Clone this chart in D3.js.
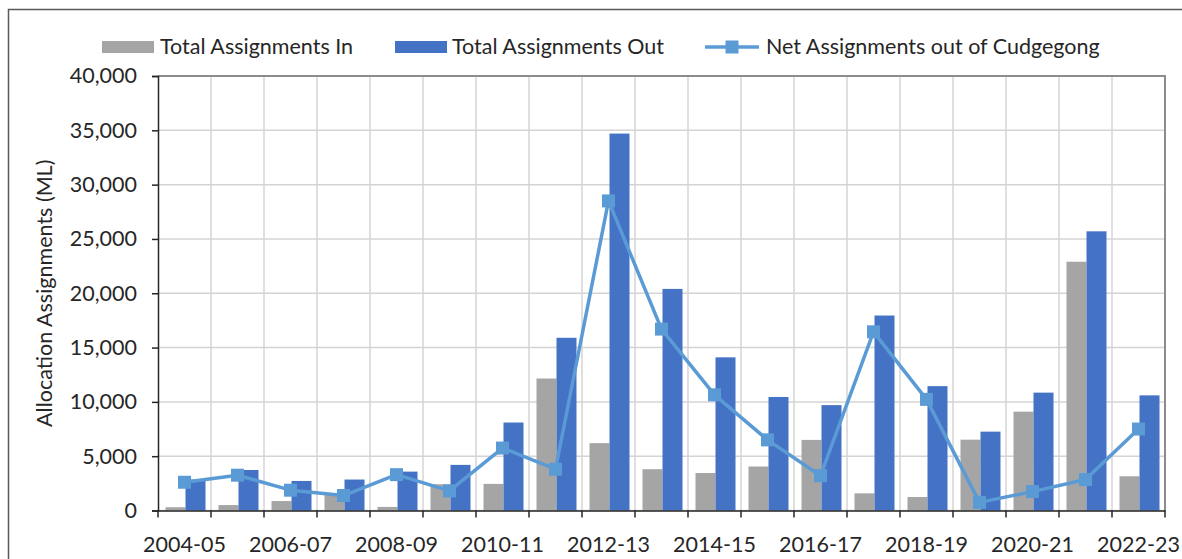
<!DOCTYPE html>
<html>
  <head>
    <title>Allocation Assignments</title>
    <script src="https://d3js.org/d3.v7.min.js"></script>
    <style>
      body { margin: 0; background: #fff; }
      text { font-family: Lato, "Open Sans", sans-serif; fill: #262626; }
    </style>
  </head>
  <body>
    <div id="chart"></div>
    <script>
      // Data (ML)
      var years = ["2004-05", "2005-06", "2006-07", "2007-08", "2008-09", "2009-10",
        "2010-11", "2011-12", "2012-13", "2013-14", "2014-15", "2015-16", "2016-17",
        "2017-18", "2018-19", "2019-20", "2020-21", "2021-22", "2022-23"];
      var assignIn = [300, 500, 870, 1450, 330, 2420, 2450, 12150, 6200, 3800, 3450,
        4050, 6500, 1580, 1240, 6520, 9100, 22900, 3150];
      var assignOut = [2850, 3730, 2720, 2850, 3580, 4200, 8100, 15900, 34700, 20400,
        14100, 10450, 9700, 17950, 11450, 7260, 10850, 25700, 10600];
      var netOut = [2600, 3250, 1870, 1380, 3300, 1800, 5750, 3800, 28500, 16700,
        10650, 6500, 3200, 16450, 10230, 750, 1740, 2850, 7500];
      var yTicks = [0, 5000, 10000, 15000, 20000, 25000, 30000, 35000, 40000];
      var labelEvery = 2;

      var width = 1182, height = 559;
      var plotL = 158, plotR = 1165, plotT = 76, plotB = 510.5;
      var fontSize = "21.5px";

      var svg = d3.select("#chart")
        .append("svg")
        .attr("width", width)
        .attr("height", height);

      // outer chart frame (runs off the picture on the right and bottom)
      svg.append("rect")
        .attr("x", 8.5).attr("y", 9.5)
        .attr("width", 1300).attr("height", 700)
        .attr("fill", "none")
        .attr("stroke", "#595959")
        .attr("stroke-width", 1.5);

      var x = d3.scaleBand()
        .domain(years)
        .range([plotL, plotR]);

      var y = d3.scaleLinear()
        .domain([0, 40000])
        .range([plotB, plotT]);

      var barW = 20;

      // horizontal gridlines
      svg.append("g")
        .selectAll("line")
        .data(yTicks)
        .enter()
        .append("line")
        .attr("x1", plotL).attr("x2", plotR)
        .attr("y1", function(d) { return y(d); })
        .attr("y2", function(d) { return y(d); })
        .attr("stroke", "#d4d4d4")
        .attr("stroke-width", 1.5);

      // vertical gridlines at category boundaries
      svg.append("g")
        .selectAll("line")
        .data(years.slice(1))
        .enter()
        .append("line")
        .attr("x1", function(d) { return x(d); })
        .attr("x2", function(d) { return x(d); })
        .attr("y1", plotT).attr("y2", plotB)
        .attr("stroke", "#d4d4d4")
        .attr("stroke-width", 1.5);

      // plot frame: top and right
      svg.append("path")
        .attr("d", "M" + plotL + "," + plotT + "H" + plotR + "V" + plotB)
        .attr("fill", "none")
        .attr("stroke", "#8c8c8c")
        .attr("stroke-width", 2);

      // bars
      svg.append("g")
        .selectAll("rect")
        .data(years)
        .enter()
        .append("rect")
        .attr("x", function(d) { return x(d) + x.bandwidth() / 2 - barW + 1; })
        .attr("y", function(d, i) { return y(assignIn[i]); })
        .attr("width", barW)
        .attr("height", function(d, i) { return plotB - y(assignIn[i]); })
        .attr("fill", "#a5a5a5");

      svg.append("g")
        .selectAll("rect")
        .data(years)
        .enter()
        .append("rect")
        .attr("x", function(d) { return x(d) + x.bandwidth() / 2 + 1; })
        .attr("y", function(d, i) { return y(assignOut[i]); })
        .attr("width", barW)
        .attr("height", function(d, i) { return plotB - y(assignOut[i]); })
        .attr("fill", "#4472c4");

      // y axis
      var yAxis = svg.append("g")
        .attr("transform", "translate(" + plotL + ",0)")
        .call(d3.axisLeft(y).tickValues(yTicks).tickSize(6).tickPadding(15)
          .tickFormat(d3.format(",")));
      yAxis.select(".domain").attr("stroke", "#262626").attr("stroke-width", 1.5);
      yAxis.selectAll(".tick line").attr("stroke", "#262626").attr("stroke-width", 1.5);
      yAxis.selectAll("text").style("font-size", fontSize).attr("fill", "#262626");

      // x axis
      var xAxis = svg.append("g")
        .attr("transform", "translate(0," + plotB + ")")
        .call(d3.axisBottom(x).tickSize(0).tickPadding(26)
          .tickFormat(function(d, i) { return i % labelEvery === 0 ? d : ""; }));
      xAxis.select(".domain").attr("stroke", "#262626").attr("stroke-width", 1.5);
      xAxis.selectAll("text").style("font-size", fontSize).attr("fill", "#262626");

      // x tick marks at category boundaries
      svg.append("g")
        .selectAll("line")
        .data(years.concat(["end"]))
        .enter()
        .append("line")
        .attr("x1", function(d, i) { return plotL + i * x.step(); })
        .attr("x2", function(d, i) { return plotL + i * x.step(); })
        .attr("y1", plotB).attr("y2", plotB + 7)
        .attr("stroke", "#262626")
        .attr("stroke-width", 1.5);

      // net line
      var line = d3.line()
        .x(function(d, i) { return x(years[i]) + x.bandwidth() / 2; })
        .y(function(d) { return y(d); });

      svg.append("path")
        .datum(netOut)
        .attr("d", line)
        .attr("fill", "none")
        .attr("stroke", "#5b9bd5")
        .attr("stroke-width", 3.5)
        .attr("stroke-linejoin", "round");

      svg.append("g")
        .selectAll("rect")
        .data(netOut)
        .enter()
        .append("rect")
        .attr("x", function(d, i) { return x(years[i]) + x.bandwidth() / 2 - 6.5; })
        .attr("y", function(d) { return y(d) - 6.5; })
        .attr("width", 13)
        .attr("height", 13)
        .attr("fill", "#5b9bd5");

      // y title
      svg.append("text")
        .attr("transform", "translate(52," + ((plotT + plotB) / 2) + ") rotate(-90)")
        .attr("text-anchor", "middle")
        .style("font-size", fontSize)
        .text("Allocation Assignments (ML)");

      // legend
      var legend = svg.append("g");
      legend.append("rect")
        .attr("x", 102).attr("y", 41).attr("width", 52).attr("height", 12)
        .attr("fill", "#a5a5a5");
      legend.append("text")
        .attr("x", 160).attr("y", 54)
        .style("font-size", fontSize)
        .text("Total Assignments In");
      legend.append("rect")
        .attr("x", 395).attr("y", 41).attr("width", 52).attr("height", 12)
        .attr("fill", "#4472c4");
      legend.append("text")
        .attr("x", 452).attr("y", 54)
        .style("font-size", fontSize)
        .text("Total Assignments Out");
      legend.append("line")
        .attr("x1", 705).attr("x2", 759).attr("y1", 47).attr("y2", 47)
        .attr("stroke", "#5b9bd5").attr("stroke-width", 3.5);
      legend.append("rect")
        .attr("x", 725.5).attr("y", 40.5).attr("width", 13).attr("height", 13)
        .attr("fill", "#5b9bd5");
      legend.append("text")
        .attr("x", 766).attr("y", 54)
        .style("font-size", fontSize)
        .text("Net Assignments out of Cudgegong");
    </script>
  </body>
</html>
